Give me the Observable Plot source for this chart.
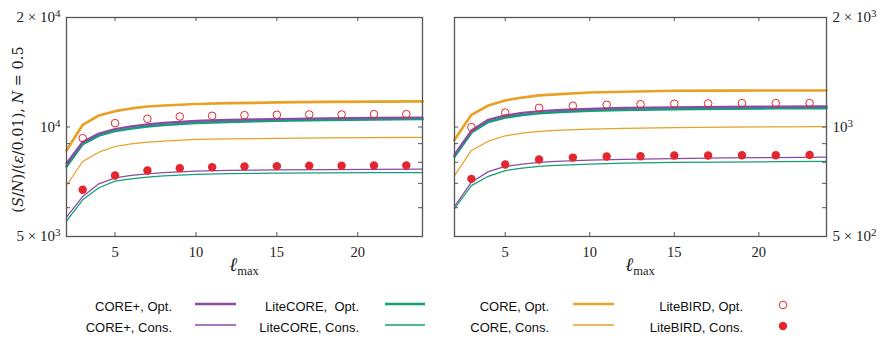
<!DOCTYPE html>
<html><head><meta charset="utf-8">
<script src="https://cdn.jsdelivr.net/npm/d3@7"></script>
<script src="https://cdn.jsdelivr.net/npm/@observablehq/plot@0.6"></script>
<style>
body{margin:0;background:#fff;}
#row{display:flex;width:881px;height:280px;}
#row svg{display:block;}
</style></head><body>
<div id="row"></div>
<div id="legend"></div>
<script>
// ---------------- data ----------------
const lineX = [2,3,4,5,6,7,8,10,12,15,18,21,24];
const pointX = [3,5,7,9,11,13,15,17,19,21,23];
const xTicks = [5,10,15,20];

// left panel (N = 0.5)
const L_coreOpt      = [8618,10140,10755,11053,11245,11386,11458,11568,11625,11680,11720,11745,11760];
const L_corePlusOpt  = [7938,9093,9598,9876,10035,10162,10260,10390,10455,10520,10570,10600,10620];
const L_liteCoreOpt  = [7786,8980,9476,9748,9904,10034,10128,10259,10332,10406,10460,10495,10520];
const L_coreCons     = [6906,8039,8526,8839,8990,9083,9150,9241,9280,9311,9335,9350,9361];
const L_corePlusCons = [5650,6440,6980,7250,7360,7437,7495,7565,7600,7625,7640,7650,7657];
const L_liteCoreCons = [5507,6306,6807,7096,7200,7281,7340,7405,7440,7465,7480,7490,7496];
const L_liteBirdOpt  = [9318,10245,10535,10687,10735,10780,10803,10825,10825,10848,10848];
const L_liteBirdCons = [6720,7355,7594,7706,7755,7788,7805,7826,7826,7840,7840];
const L_yMajor = [5000,10000,20000];
const L_yMinor = [6000,7000,8000,9000,10000];
const L_yLabels = ["5 × 10^3","10^4","2 × 10^4"];

// right panel
const R_coreOpt      = [922,1080,1146,1183,1205,1221,1230,1244,1250,1258,1259,1260,1260];
const R_corePlusOpt  = [840,978,1047,1076,1093,1105,1113,1122,1128,1133,1136,1138,1139];
const R_liteCoreOpt  = [830,966,1033,1062,1079,1091,1099,1109,1115,1120,1124,1126,1127];
const R_coreCons     = [735,862,914,946,962,972,979,986,991,996,999,1001,1003];
const R_corePlusCons = [604,705,754,779,791,799,804,811,815,819,822,824,826];
const R_liteCoreCons = [596,690,732,759,771,779,784,791,795,799,801,803,804];
const R_liteBirdOpt  = [999,1096,1129,1144,1151,1155,1159,1161,1163,1163,1163];
const R_liteBirdCons = [720,789,814,824,830,831,835,835,836,836,838];
const R_yMajor = [500,1000,2000];
const R_yMinor = [600,700,800,900,1000];
const R_yLabels = ["5 × 10^2","10^3","2 × 10^3"];

const legendLabels = [
  ["CORE+, Opt.","CORE+, Cons."],
  ["LiteCORE,  Opt.","LiteCORE, Cons."],
  ["CORE, Opt.","CORE, Cons."],
  ["LiteBIRD, Opt.","LiteBIRD, Cons."]
];

// ---------------- style ----------------
const PURPLE = "#8a4ba6", GREEN = "#159e78", ORANGE = "#e9a125", RED = "#e4262e";
const AXIS = "#555";
const SERIF = "'Liberation Serif', 'DejaVu Serif', serif";
const H = 280, MT = 17, MB = 44;

function rows(xs, vs){ return xs.map((x,i)=>({x, y: vs[i]})); }

function panel(o){
  const frameW = o.width - o.marginLeft - o.marginRight;
  const frameH = H - MT - MB;
  const fmt = d => o.yLabels[o.yMajor.indexOf(d)];
  const thin = 1.25, thick = 2.7;
  const svg = Plot.plot({
    width: o.width, height: H,
    marginLeft: o.marginLeft, marginRight: o.marginRight, marginTop: MT, marginBottom: MB,
    style: {fontFamily: SERIF, fontSize: "15px", background: "#fff", color: "#222"},
    x: {domain: [2,24], label: null},
    y: {type: "log", domain: o.yDomain, label: null},
    marks: [
      Plot.line(rows(lineX, o.coreCons), {x:"x", y:"y", stroke: ORANGE, strokeWidth: thin}),
      Plot.line(rows(lineX, o.liteCoreCons), {x:"x", y:"y", stroke: GREEN, strokeWidth: thin}),
      Plot.line(rows(lineX, o.corePlusCons), {x:"x", y:"y", stroke: PURPLE, strokeWidth: thin}),
      Plot.line(rows(lineX, o.coreOpt), {x:"x", y:"y", stroke: ORANGE, strokeWidth: thick}),
      Plot.line(rows(lineX, o.liteCoreOpt), {x:"x", y:"y", stroke: GREEN, strokeWidth: thick}),
      Plot.line(rows(lineX, o.corePlusOpt), {x:"x", y:"y", stroke: PURPLE, strokeWidth: 2.2}),
      Plot.dot(rows(pointX, o.liteBirdOpt), {x:"x", y:"y", r: 3.8, stroke: RED, strokeWidth: 1, fill: "none"}),
      Plot.dot(rows(pointX, o.liteBirdCons), {x:"x", y:"y", r: 4.2, fill: RED, stroke: "none"}),
      // inward ticks
      Plot.tickX(xTicks, {x: d=>d, insetTop: frameH - 4, stroke: AXIS, strokeWidth: 1}),
      Plot.tickX(xTicks, {x: d=>d, insetBottom: frameH - 4, stroke: AXIS, strokeWidth: 1}),
      Plot.tickY(o.yMinor, {y: d=>d, insetRight: frameW - 4, stroke: AXIS, strokeWidth: 1}),
      Plot.tickY(o.yMinor, {y: d=>d, insetLeft: frameW - 4, stroke: AXIS, strokeWidth: 1}),
      Plot.frame({stroke: AXIS, strokeWidth: 1.3}),
      Plot.axisX({ticks: xTicks, tickSize: 0, tickPadding: 10, label: null}),
      Plot.axisY({ticks: o.yMajor, anchor: o.anchor, tickSize: 0, tickPadding: 6, tickFormat: fmt, label: null})
    ]
  });
  const s = d3.select(svg);
  s.selectAll("g[aria-label='x-axis tick label']").attr("font-size", "14.5px");
  s.selectAll("g[aria-label='y-axis tick label']").attr("font-size", "15px");
  // superscripts on y tick labels
  s.selectAll("text").each(function(){
    const t = d3.select(this);
    if (t.selectAll("tspan").size() > 0) return;
    const txt = t.text();
    if (txt.includes("^")) {
      const [base, sup] = txt.split("^");
      t.text(null);
      t.append("tspan").text(base);
      t.append("tspan").attr("dy", "-0.45em").attr("font-size", "11px").text(sup);
    }
  });
  // x label: l_max
  const cx = o.marginLeft + frameW / 2;
  const xl = s.append("text").attr("x", cx).attr("y", 271).attr("text-anchor", "middle")
    .attr("font-family", SERIF).attr("font-size", "19px").attr("fill", "#222");
  xl.append("tspan").attr("font-style", "italic").text("ℓ");
  xl.append("tspan").attr("dy", "4").attr("font-size", "12.5px").text("max");
  if (o.ylabel) {
    const yl = s.append("text").attr("transform", `translate(18,${MT + frameH/2 + 3}) rotate(-90)`)
      .attr("text-anchor", "middle").attr("dominant-baseline", "central")
      .attr("font-family", "'DejaVu Serif', serif").attr("font-size", "14.5px").attr("fill", "#222");
    const parts = [["(",0],["S",1],["/",0],["N",1],[")/(",0],["ε",1],["/0.01), ",0],["N",1],[" = 0.5",0]];
    parts.forEach(([p,it]) => { const ts = yl.append("tspan").text(p); if (it) ts.attr("font-style","italic"); });
    yl.attr("xml:space","preserve").style("white-space","pre");
  }
  return svg;
}

const left = panel({
  width: 440, marginLeft: 66, marginRight: 18, yDomain: [5000,20000],
  yMajor: L_yMajor, yMinor: L_yMinor, yLabels: L_yLabels, anchor: "left", ylabel: true,
  coreOpt: L_coreOpt, corePlusOpt: L_corePlusOpt, liteCoreOpt: L_liteCoreOpt,
  coreCons: L_coreCons, corePlusCons: L_corePlusCons, liteCoreCons: L_liteCoreCons,
  liteBirdOpt: L_liteBirdOpt, liteBirdCons: L_liteBirdCons
});
const right = panel({
  width: 441, marginLeft: 14, marginRight: 55, yDomain: [500,2000],
  yMajor: R_yMajor, yMinor: R_yMinor, yLabels: R_yLabels, anchor: "right", ylabel: false,
  coreOpt: R_coreOpt, corePlusOpt: R_corePlusOpt, liteCoreOpt: R_liteCoreOpt,
  coreCons: R_coreCons, corePlusCons: R_corePlusCons, liteCoreCons: R_liteCoreCons,
  liteBirdOpt: R_liteBirdOpt, liteBirdCons: R_liteBirdCons
});
document.getElementById("row").append(left, right);

// ---------------- legend ----------------
const lg = d3.select("#legend").append("svg").attr("width", 881).attr("height", 59)
  .style("display","block").attr("font-family", "'Liberation Sans', Arial, sans-serif").attr("font-size", "13px");
const textEnds = [172, 359, 549, 743];
const swatch = [[195,236,PURPLE],[385,425,GREEN],[573,614,ORANGE]];
const rowText = [30.5, 51.5], rowSw = [24, 45];
legendLabels.forEach((pair, c) => {
  pair.forEach((lab, r) => {
    lg.append("text").attr("x", textEnds[c]).attr("y", rowText[r]).attr("text-anchor","end")
      .attr("fill","#111").attr("xml:space","preserve").style("white-space","pre").text(lab);
  });
});
swatch.forEach(([x1,x2,col]) => {
  lg.append("line").attr("x1",x1).attr("x2",x2).attr("y1",rowSw[0]).attr("y2",rowSw[0]).attr("stroke",col).attr("stroke-width",2.7);
  lg.append("line").attr("x1",x1).attr("x2",x2).attr("y1",rowSw[1]).attr("y2",rowSw[1]).attr("stroke",col).attr("stroke-width",1.3);
});
lg.append("circle").attr("cx",783).attr("cy",rowSw[0]+1).attr("r",3.8).attr("fill","none").attr("stroke",RED).attr("stroke-width",1);
lg.append("circle").attr("cx",783).attr("cy",rowSw[1]+1).attr("r",4.2).attr("fill",RED);
</script>
</body></html>
